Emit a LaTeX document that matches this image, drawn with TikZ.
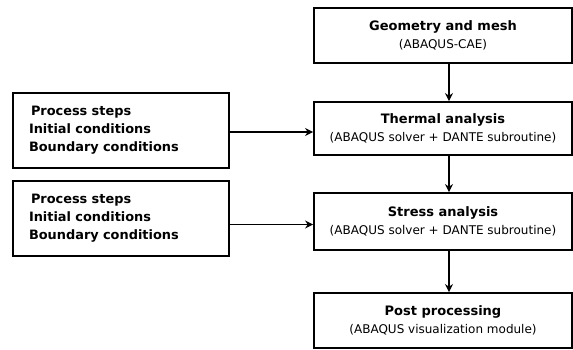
\documentclass[tikz,border=0pt]{standalone}
\usepackage{fontspec}
\setmainfont{DejaVu Sans}
\usetikzlibrary{arrows.meta}
\begin{document}
\begin{tikzpicture}[x=1pt,y=1pt,
  box/.style={draw=black,line width=1.8pt,rectangle,inner sep=0pt},
  rbox/.style={box,minimum width=258pt,align=center,font=\fontsize{12pt}{18pt}\selectfont},
  lbox/.style={box,minimum width=216pt,minimum height=75pt,text width=184pt,align=left,inner xsep=16pt,font=\fontsize{12.9pt}{18pt}\selectfont\bfseries},
  arr/.style={line width=1.8pt,-{Stealth[length=8pt,width=8pt]}}]
\useasboundingbox (0,0) rectangle (573,350);
\node[rbox,minimum height=55pt] (geo) at (443,314.5) {{\fontsize{13pt}{18pt}\selectfont\bfseries Geometry and mesh}\\(ABAQUS-CAE)};
\node[rbox,minimum height=53pt] (therm) at (443,221.5) {{\fontsize{13pt}{18pt}\selectfont\bfseries Thermal analysis}\\(ABAQUS solver + DANTE subroutine)};
\node[rbox,minimum height=57pt] (stress) at (443,128.5) {{\fontsize{13pt}{18pt}\selectfont\bfseries Stress analysis}\\(ABAQUS solver + DANTE subroutine)};
\node[rbox,minimum height=55pt] (post) at (443,29.5) {{\fontsize{13pt}{18pt}\selectfont\bfseries Post processing}\\(ABAQUS visualization module)};
\node[lbox] (l1) at (121,219.5) {\hspace*{2pt}Process steps\\Initial conditions\\Boundary conditions};
\node[lbox] (l2) at (121,131.5) {\hspace*{2pt}Process steps\\Initial conditions\\Boundary conditions};
\draw[arr] ([xshift=6pt]geo.south) -- ([xshift=6pt]therm.north);
\draw[arr] ([xshift=6pt]therm.south) -- ([xshift=6pt]stress.north);
\draw[arr] ([xshift=6pt]stress.south) -- ([xshift=6pt]post.north);
\draw[arr] ([yshift=-1.5pt]l1.east) -- ([yshift=-1.5pt]l1.east -| therm.west);
\draw[arr] ([yshift=-6pt]l2.east) -- ([yshift=-6pt]l2.east -| stress.west);
\end{tikzpicture}
\end{document}
